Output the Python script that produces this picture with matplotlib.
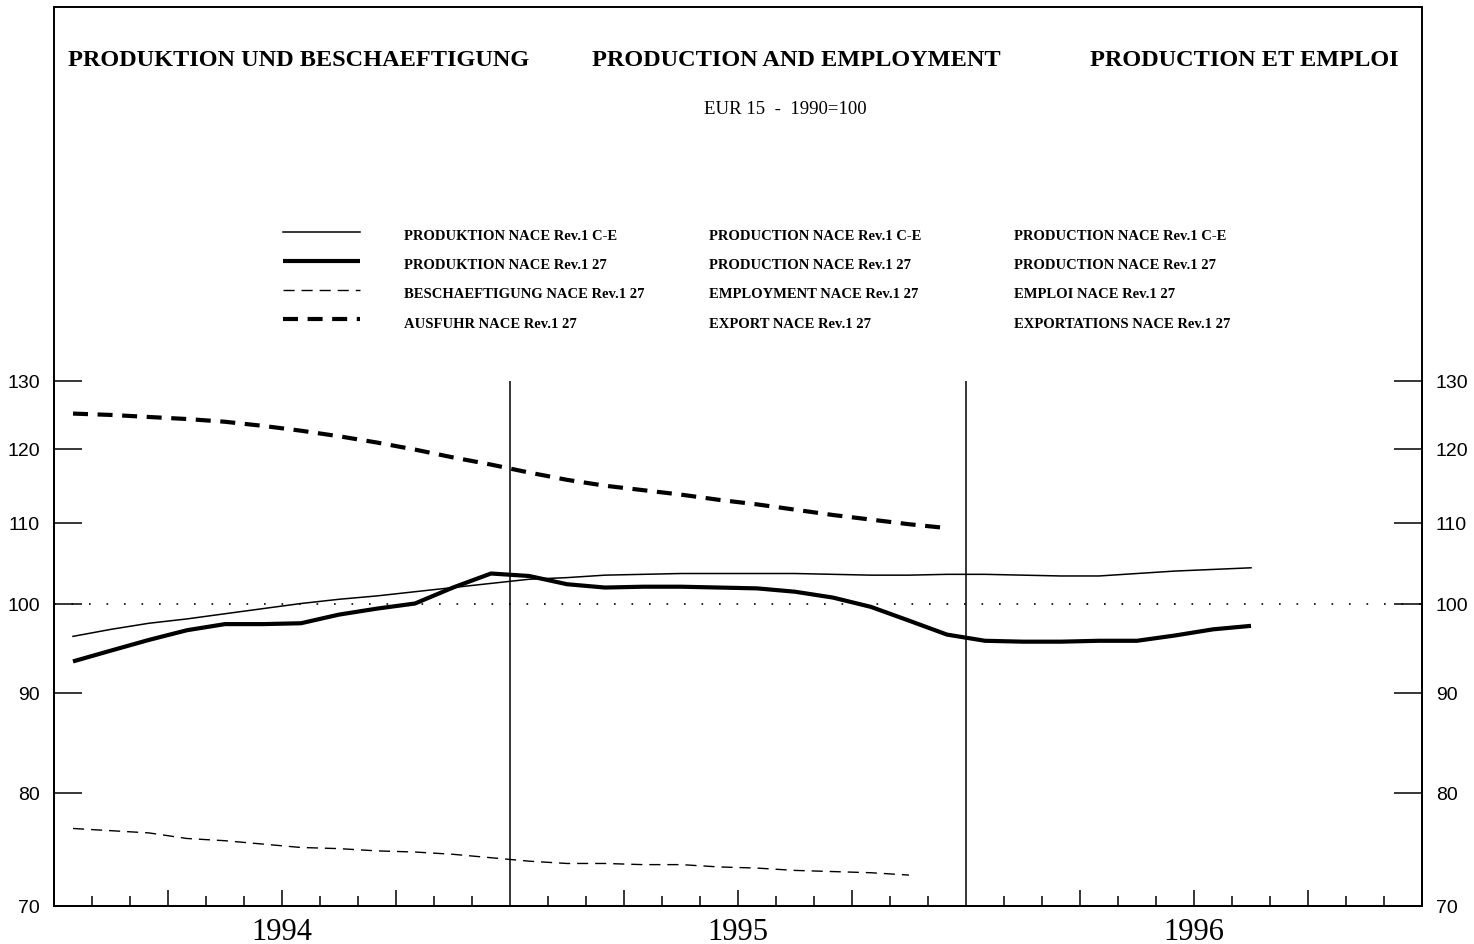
import numpy as np
import matplotlib
matplotlib.use('Agg')
import matplotlib.pyplot as plt
from matplotlib import font_manager
from matplotlib.lines import Line2D
from matplotlib.patches import Rectangle
from matplotlib.ticker import FixedLocator, FixedFormatter, NullLocator


def pick_font(names):
    # ersten installierten Font nehmen
    for n in names:
        try:
            font_manager.findfont(n, fallback_to_default=False)
            return n
        except Exception:
            pass
    return 'DejaVu Sans'


serif = pick_font(['Liberation Serif', 'DejaVu Serif'])
sans = pick_font(['Liberation Sans', 'DejaVu Sans'])

# Daten (Monatswerte, EUR 15, 1990=100), Jan 1994 ...
years = ['1994', '1995', '1996']

prod_ce = [96.2, 97.0, 97.7, 98.2, 98.8, 99.4, 100.0, 100.5, 100.9, 101.4, 101.9, 102.4,
           102.9, 103.1, 103.4, 103.5, 103.6, 103.6, 103.6, 103.6, 103.5, 103.4, 103.4, 103.5,
           103.5, 103.4, 103.3, 103.3, 103.6, 103.9, 104.1, 104.3]

prod_27 = [93.4, 94.6, 95.8, 96.9, 97.6, 97.6, 97.7, 98.7, 99.4, 100.0, 101.9, 103.6,
           103.3, 102.3, 101.9, 102.0, 102.0, 101.9, 101.8, 101.4, 100.7, 99.6, 98.0, 96.4,
           95.7, 95.6, 95.6, 95.7, 95.7, 96.3, 97.0, 97.4]

empl_27 = [76.7, 76.5, 76.3, 75.8, 75.6, 75.3, 75.0, 74.9, 74.7, 74.6, 74.4, 74.1,
           73.8, 73.6, 73.6, 73.5, 73.5, 73.3, 73.2, 73.0, 72.9, 72.8, 72.6]

export_27 = [125.1, 124.9, 124.6, 124.3, 123.9, 123.3, 122.6, 121.8, 120.9, 119.9, 118.8, 117.8,
             116.7, 115.7, 114.9, 114.3, 113.7, 113.0, 112.4, 111.7, 111.0, 110.4, 109.8, 109.3]

legend_de = ['PRODUKTION NACE Rev.1 C-E', 'PRODUKTION NACE Rev.1 27',
             'BESCHAEFTIGUNG NACE Rev.1 27', 'AUSFUHR NACE Rev.1 27']
legend_en = ['PRODUCTION NACE Rev.1 C-E', 'PRODUCTION NACE Rev.1 27',
             'EMPLOYMENT NACE Rev.1 27', 'EXPORT NACE Rev.1 27']
legend_fr = ['PRODUCTION NACE Rev.1 C-E', 'PRODUCTION NACE Rev.1 27',
             'EMPLOI NACE Rev.1 27', 'EXPORTATIONS NACE Rev.1 27']

yticks = [70, 80, 90, 100, 110, 120, 130]

W, H = 1474, 945
fig = plt.figure(figsize=(W / 100, H / 100), dpi=100)
ax = fig.add_axes([54 / W, 1 - 907 / H, (1422 - 54) / W, (907 - 382) / H])

# Linienstile
thin = dict(color='black', lw=1.1, solid_joinstyle='round')
thick = dict(color='black', lw=3.0, solid_joinstyle='round', solid_capstyle='butt')
thin_dash = dict(color='black', lw=1.0, linestyle=(0, (8, 5)))
thick_dash = dict(color='black', lw=3.0, linestyle=(0, (3.6, 2.3)))
styles = [thin, thick, thin_dash, thick_dash]

x = lambda s: np.arange(len(s)) + 0.5
ax.plot(x(prod_ce), prod_ce, **thin)
ax.plot(x(prod_27), prod_27, **thick)
ax.plot(x(empl_27), empl_27, **thin_dash)
ax.plot(x(export_27), export_27, **thick_dash)

# 100-Linie und Jahresgrenzen
ax.axhline(100, color='black', lw=1.2, linestyle=(0, (1, 9.5)))
ax.vlines([12, 24], 70, 130, color='black', lw=1.1)

ax.set_yscale('log')
ax.set_ylim(70, 130)
ax.set_xlim(0, 36)

ax.yaxis.set_major_locator(FixedLocator(yticks))
ax.yaxis.set_major_formatter(FixedFormatter([str(v) for v in yticks]))
ax.yaxis.set_minor_locator(NullLocator())
ax.tick_params(axis='y', which='major', direction='in', length=20, width=1.1,
               left=True, right=True, labelleft=True, labelright=True, pad=10,
               labelsize=14)
for lab in ax.get_yticklabels():
    lab.set_family(sans)

# Monatsstriche, Quartale laenger
quarters = [3, 6, 9, 15, 18, 21, 27, 30, 33]
months = [m for m in range(1, 36) if m % 3 != 0]
ax.xaxis.set_major_locator(FixedLocator(quarters))
ax.xaxis.set_major_formatter(FixedFormatter(['', years[0], '', '', years[1], '', '', years[2], '']))
ax.xaxis.set_minor_locator(FixedLocator(months))
ax.tick_params(axis='x', which='major', direction='in', length=11.5, width=1.1, pad=8,
               labelsize=22)
ax.tick_params(axis='x', which='minor', direction='in', length=7, width=1.1)
for lab in ax.get_xticklabels():
    lab.set_family(serif)

ax.spines['top'].set_visible(False)
for s in ['left', 'right', 'bottom']:
    ax.spines[s].set_linewidth(1.4)

# Rahmen oben
fig.add_artist(Rectangle((54 / W, 1 - 907 / H), (1422 - 54) / W, (907 - 8) / H,
                         transform=fig.transFigure, fill=False, lw=1.4, color='black'))

# Titel
fy = lambda py: 1 - py / H
fig.text(68 / W, fy(60), 'PRODUKTION UND BESCHAEFTIGUNG', family=serif, weight='bold',
         fontsize=17.5, ha='left', va='center')
fig.text(796 / W, fy(60), 'PRODUCTION AND EMPLOYMENT', family=serif, weight='bold',
         fontsize=17.5, ha='center', va='center')
fig.text(1399 / W, fy(60), 'PRODUCTION ET EMPLOI', family=serif, weight='bold',
         fontsize=17.5, ha='right', va='center')
fig.text(785 / W, fy(110), 'EUR 15  -  1990=100', family=serif, fontsize=13.5,
         ha='center', va='center')

# Legende
rows = [233, 262, 291, 320]
for i, st in enumerate(styles):
    fig.add_artist(Line2D([283 / W, 360 / W], [fy(rows[i]), fy(rows[i])],
                          transform=fig.transFigure, **st))
    for cx, txt in zip([404, 709, 1014], [legend_de[i], legend_en[i], legend_fr[i]]):
        fig.text(cx / W, fy(rows[i] + 4), txt, family=serif, weight='bold', fontsize=10.5,
                 ha='left', va='center')

plt.savefig('out.png', dpi=100)
